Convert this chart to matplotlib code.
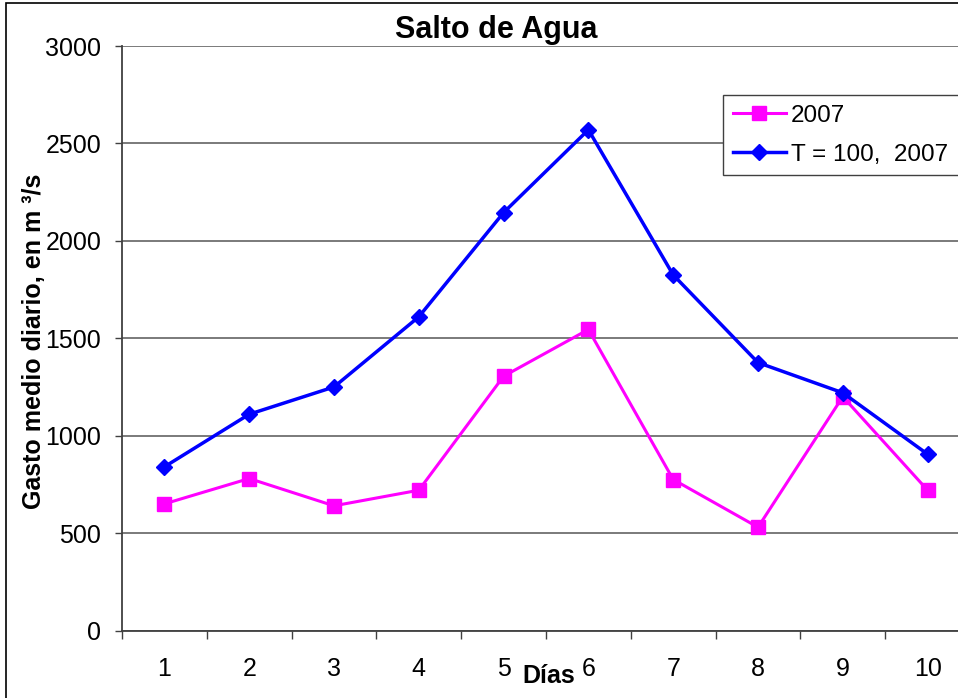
import matplotlib.pyplot as plt
from matplotlib.patches import Rectangle
import numpy as np

plt.rcParams['font.family'] = ['Liberation Sans', 'DejaVu Sans']

dias = [1, 2, 3, 4, 5, 6, 7, 8, 9, 10]
gasto_2007 = [650, 780, 640, 720, 1305, 1545, 775, 530, 1200, 720]
gasto_t100 = [840, 1110, 1250, 1610, 2145, 2570, 1825, 1375, 1220, 905]

W, H = 958, 698
fig = plt.figure(figsize=(W / 100, H / 100), dpi=100)

# frame around the whole chart
fig.patches.append(Rectangle((6 / W, -0.1), 1.2, 1 - 3 / H + 0.1,
                             transform=fig.transFigure, fill=False,
                             edgecolor='black', lw=1.2))

ax = fig.add_axes([122 / W, 1 - 630.5 / H, 848 / W, 584.5 / H])
x = np.arange(len(dias))

ax.plot(x, gasto_2007, color='#FF00FF', lw=2.2, marker='s', ms=9.5,
        label='2007', clip_on=False, zorder=3)
ax.plot(x, gasto_t100, color='#0000FF', lw=2.5, marker='D', ms=8.5,
        label='T = 100,  2007', clip_on=False, zorder=4)

ax.set_xlim(-0.5, len(dias) - 0.5)
ax.set_ylim(0, 3000)
ax.set_yticks(np.arange(0, 3001, 500))
ax.yaxis.grid(True, color='#707070', lw=1.3)
ax.set_axisbelow(True)

# category labels at centres, tick marks between categories
ax.set_xticks(np.arange(-0.5, len(dias), 1))
ax.set_xticklabels([])
ax.set_xticks(x, minor=True)
ax.set_xticklabels([str(d) for d in dias], minor=True)
ax.tick_params(axis='x', which='major', length=6, width=1, color='#404040', direction='out')
ax.tick_params(axis='x', which='minor', length=0, pad=19, labelsize=18)
ax.tick_params(axis='y', length=5, width=1, color='#404040', pad=10, labelsize=18)

for s in ['top', 'right']:
    ax.spines[s].set_visible(False)
for s in ['left', 'bottom']:
    ax.spines[s].set_color('#404040')
    ax.spines[s].set_linewidth(1.3)

fig.text(496 / W, 1 - 38 / H, 'Salto de Agua', ha='center', va='baseline',
         fontsize=22, fontweight='bold')
fig.text(549 / W, 1 - 683 / H, 'Días', ha='center', va='baseline',
         fontsize=18, fontweight='bold')
fig.text(34 / W, 1 - 341 / H, 'Gasto medio diario, en m ³/s', ha='center',
         va='center', rotation=90, fontsize=18, fontweight='bold')

# legend box runs off the right edge of the picture, as in the original
leg = ax.legend(loc='upper left', bbox_to_anchor=(723 / W, 0, 250 / W, 1 - 95 / H),
                bbox_transform=fig.transFigure, borderaxespad=0, mode='expand',
                fontsize=17.5, handlelength=2.2, fancybox=False, framealpha=1,
                edgecolor='#404040', borderpad=0.4, labelspacing=0.7,
                handletextpad=0.2)
leg.get_frame().set_linewidth(1.0)

fig.savefig('out.png', dpi=100)
